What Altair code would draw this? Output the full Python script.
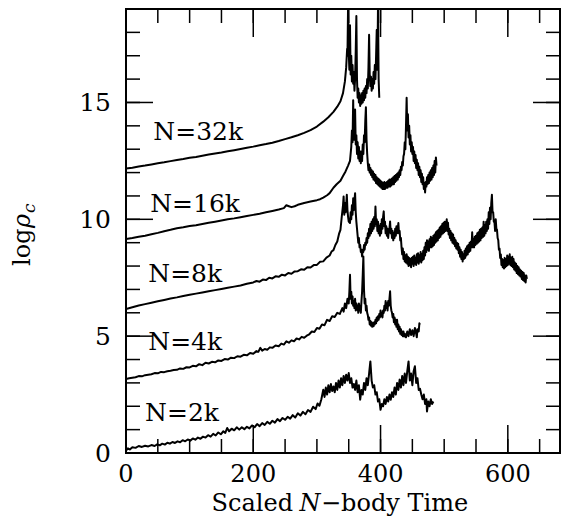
import altair as alt
import pandas as pd

FONT = "DejaVu Serif"

# ---- data: (scaled N-body time, log rho_c) ----
N32K = [(0,12.17),(10,12.21),(20,12.26),(30,12.3),(40,12.35),(50,12.4),(60,12.44),(70,12.49),(80,12.54),(90,12.58),
        (100,12.63),(110,12.67),(120,12.72),(130,12.77),(140,12.82),(150,12.86),(160,12.91),(170,12.96),(180,13.01),(190,13.06),
        (200,13.11),(210,13.17),(220,13.22),(230,13.28),(240,13.35),(250,13.43),(260,13.51),(270,13.6),(280,13.7),(290,13.82),
        (300,13.97),(310,14.18),(318,14.37),(326,14.6),(332,14.82),(337,15.05),(341,15.4),(344,15.9),(346,16.5),(347.5,17.3),
        (348,17.0),(349,19.2),(350,17.2),(351,16.4),(352,18.3),(353,16.2),(354,17.0),(355,15.9),(356,16.6),(357,15.8),
        (358,16.3),(359,15.5),(360,16.0),(361,17.2),(362,18.7),(363,16.0),(364,15.2),(365,15.6),(366,15.0),(367,15.4),
        (368,14.85),(369,15.3),(370,14.95),(371,15.4),(372,15.0),(373,15.5),(374,15.1),(375,15.6),(376,15.2),(377,15.7),
        (378,15.4),(379,16.0),(380,15.6),(381,16.5),(382,17.9),(383,16.2),(384,15.7),(385,16.1),(386,15.5),(387,16.0),
        (388,15.6),(389,16.3),(390,15.8),(391,16.6),(392,16.0),(393,17.0),(394,18.1),(395,16.4),(396,19.1),(397,16.0),(398,15.2)]

N16K = [(0,9.16),(10,9.2),(20,9.25),(30,9.3),(40,9.36),(50,9.42),(60,9.49),(70,9.55),(80,9.62),(90,9.66),
        (100,9.71),(110,9.75),(120,9.8),(130,9.85),(140,9.9),(150,9.95),(160,10.0),(170,10.04),(180,10.09),(190,10.14),
        (200,10.19),(210,10.24),(220,10.3),(230,10.36),(240,10.42),(248,10.48),(252,10.6),(256,10.56),(260,10.52),(265,10.56),
        (270,10.62),(280,10.7),(290,10.76),(300,10.82),(305,10.86),(310,10.93),(316,11.03),(320,11.12),(326,11.35),(331,11.5),
        (337,11.65),(341,11.85),(345,12.05),(349,12.3),(352,12.5),(354,13.1),(355,13.8),(356,13.3),(357,15.1),(358,13.4),
        (359,13.9),(360,14.7),(361,13.2),(362,13.6),(363,12.8),(364,13.3),(365,12.6),(366,13.1),(367,12.5),(368,12.9),
        (369,12.4),(370,12.9),(371,12.5),(372,13.2),(373,12.8),(374,13.6),(375,13.3),(376,14.2),(377,14.8),(378,13.4),
        (379,12.8),(380,12.4),(381,12.1),(382,12.35),(383,12.0),(384,12.2),(385,11.9),(386,12.1),(387,11.8),(388,12.05),
        (389,11.7),(390,11.95),(391,11.65),(392,11.9),(393,11.55),(394,11.8),(395,11.5),(396,11.75),(397,11.45),(398,11.7),
        (399,11.4),(400,11.65),(401,11.35),(402,11.6),(403,11.3),(404,11.55),(405,11.3),(406,11.6),(407,11.3),(408,11.55),
        (409,11.35),(410,11.6),(411,11.35),(412,11.65),(413,11.4),(414,11.7),(415,11.4),(416,11.7),(417,11.45),(418,11.75),
        (419,11.5),(420,11.8),(421,11.5),(422,11.85),(423,11.6),(424,11.9),(425,11.65),(426,11.95),(427,11.7),(428,12.0),
        (429,11.8),(430,12.1),(431,11.9),(432,12.25),(433,12.1),(434,12.45),(435,12.3),(436,12.7),(437,12.8),(438,13.3),
        (439,13.0),(440,14.0),(441,15.2),(442,13.8),(443,14.5),(444,13.5),(445,14.0),(446,13.2),(447,13.6),(448,12.9),
        (449,13.3),(450,12.8),(451,13.1),(452,12.5),(453,12.9),(454,12.4),(455,12.75),(456,12.2),(457,12.55),(458,12.1),
        (459,12.4),(460,11.9),(461,12.25),(462,11.8),(463,12.1),(464,11.6),(465,11.95),(466,11.5),(467,11.8),(468,11.3),
        (469,11.55),(470,11.15),(471,11.6),(472,11.4),(473,11.8),(474,11.5),(475,11.9),(476,11.55),(477,12.0),(478,11.65),
        (479,12.1),(480,11.7),(481,12.2),(482,11.8),(483,12.3),(484,11.9),(485,12.5),(486,12.0),(487,12.65),(488,12.3)]

N8K = [(0,6.16),(10,6.24),(20,6.31),(30,6.37),(40,6.43),(50,6.49),(60,6.55),(70,6.61),(80,6.66),(90,6.72),
       (100,6.77),(110,6.82),(120,6.87),(130,6.92),(140,6.97),(150,7.02),(160,7.07),(170,7.12),(180,7.17),(190,7.24),
       (200,7.3),(205,7.36),(210,7.33),(215,7.42),(220,7.4),(225,7.5),(230,7.47),(235,7.56),(240,7.54),(245,7.63),
       (250,7.6),(255,7.7),(260,7.67),(265,7.77),(270,7.78),(275,7.86),(280,7.84),(285,7.95),(290,7.94),(295,8.04),
       (300,8.05),(305,8.18),(310,8.2),(315,8.36),(320,8.45),(323,8.62),(326,8.68),(329,8.9),(332,9.05),(335,9.4),
       (337,9.55),(339,10.1),(341,10.6),(342,10.98),(343,10.2),(344,10.7),(345,10.3),(346,10.6),(347,11.05),(348,10.4),
       (349,10.1),(350,9.9),(352,9.84),(353,10.3),(354,10.0),(355,10.6),(356,10.2),(357,10.9),(358,10.4),(359,10.8),
       (360,11.12),(361,10.3),(362,9.9),(363,9.6),(364,9.3),(365,9.0),(366,9.2),(367,8.8),(368,8.9),(369,8.6),
       (370,8.7),(371,8.41),(372,8.7),(373,8.6),(374,8.9),(375,8.7),(376,9.0),(377,8.9),(378,9.2),(379,9.0),
       (380,9.4),(381,9.2),(382,9.6),(383,9.3),(384,9.8),(385,9.4),(386,9.9),(387,9.5),(388,10.0),(389,9.6),
       (390,10.1),(391,9.7),(392,10.55),(393,9.8),(394,10.0),(395,9.5),(396,9.9),(397,9.4),(398,9.7),(399,9.3),
       (400,9.8),(401,9.4),(402,10.0),(403,9.6),(404,10.1),(405,10.34),(406,9.7),(407,9.9),(408,9.4),(409,9.7),
       (410,9.3),(411,9.6),(412,9.2),(413,9.5),(414,9.6),(415,9.91),(416,9.4),(417,9.6),(418,9.2),(419,9.5),
       (420,9.1),(421,9.4),(422,9.2),(423,9.6),(424,9.3),(425,9.7),(426,9.4),(427,9.6),(428,9.84),(429,9.4),
       (430,9.5),(431,9.1),(432,9.2),(433,8.8),(434,8.5),(435,8.75),(436,8.3),(437,8.6),(438,8.2),(439,8.45),
       (440,8.15),(441,8.5),(442,8.1),(443,8.4),(444,8.0),(445,8.35),(446,8.05),(447,8.3),(448,7.95),(449,8.35),
       (450,8.1),(451,8.4),(452,8.0),(453,8.45),(454,8.1),(455,8.35),(456,8.05),(457,8.5),(458,8.15),(459,8.55),
       (460,8.1),(461,8.45),(462,8.2),(463,8.6),(464,8.15),(465,8.5),(466,8.25),(467,8.65),(468,8.3),(469,8.8),
       (470,8.45),(471,9.0),(472,8.6),(473,9.1),(474,8.7),(475,9.05),(476,8.65),(477,9.15),(478,8.8),(479,9.25),
       (480,8.8),(481,9.2),(482,8.85),(483,9.3),(484,8.9),(485,9.35),(486,9.0),(487,9.45),(488,9.05),(489,9.5),
       (490,9.1),(491,9.55),(492,9.2),(493,9.65),(494,9.25),(495,9.7),(496,9.35),(497,9.8),(498,9.4),(499,9.85),
       (500,9.45),(501,9.9),(502,9.5),(503,9.75),(504,10.0),(505,9.5),(506,9.85),(507,9.35),(508,9.6),(509,9.2),
       (510,9.5),(511,9.1),(512,9.4),(513,9.0),(514,9.35),(515,8.95),(516,9.2),(517,8.85),(518,9.1),(519,8.75),
       (520,9.0),(521,8.7),(522,8.95),(523,8.55),(524,8.8),(525,8.4),(526,8.7),(527,8.3),(528,8.6),(529,8.2),
       (530,8.5),(531,8.3),(532,8.65),(533,8.35),(534,8.75),(535,8.45),(536,8.85),(537,8.5),(538,8.9),(539,8.6),
       (540,9.0),(541,8.65),(542,9.05),(543,8.8),(544,9.45),(545,8.8),(546,9.15),(547,8.8),(548,9.25),(549,8.9),
       (550,9.3),(551,8.95),(552,9.4),(553,9.0),(554,9.45),(555,9.05),(556,9.55),(557,9.1),(558,9.6),(559,9.2),
       (560,9.65),(561,9.25),(562,9.9),(563,9.3),(564,9.75),(565,9.4),(566,9.9),(567,9.5),(568,10.0),(569,9.6),
       (570,10.3),(571,9.8),(572,10.5),(573,10.0),(574,10.7),(575,11.05),(576,10.3),(577,10.3),(578,9.9),(579,9.9),
       (580,9.5),(581,10.0),(582,9.6),(583,9.55),(584,9.2),(585,9.1),(586,8.7),(587,8.75),(588,8.35),(589,8.5),
       (590,8.05),(591,8.3),(592,7.95),(593,8.25),(594,7.9),(595,8.35),(596,7.95),(597,8.3),(598,8.0),(599,8.45),
       (600,8.05),(601,8.4),(602,8.1),(603,8.5),(604,8.05),(605,8.35),(606,8.0),(607,8.4),(608,7.95),(609,8.3),
       (610,7.85),(611,8.15),(612,7.8),(613,8.1),(614,7.7),(615,8.0),(616,7.65),(617,7.95),(618,7.6),(619,7.85),
       (620,7.55),(621,7.8),(622,7.45),(623,7.75),(624,7.4),(625,7.7),(626,7.35),(627,7.6),(628,7.3),(629,7.6),(630,7.45)]

N4K = [(0,3.17),(5,3.2),(10,3.22),(15,3.24),(20,3.29),(25,3.28),(30,3.33),(35,3.35),(40,3.37),(45,3.42),
       (50,3.41),(55,3.47),(60,3.46),(65,3.5),(70,3.52),(75,3.55),(80,3.56),(85,3.62),(90,3.6),(95,3.67),
       (100,3.66),(105,3.73),(110,3.71),(115,3.8),(120,3.76),(125,3.86),(130,3.83),(135,3.9),(140,3.88),(145,3.96),
       (150,3.94),(155,4.02),(160,4.0),(165,4.08),(170,4.06),(175,4.14),(180,4.12),(185,4.2),(190,4.18),(195,4.28),
       (200,4.25),(205,4.36),(208,4.33),(211,4.5),(214,4.38),(218,4.45),(222,4.42),(226,4.52),(230,4.5),(235,4.6),
       (240,4.57),(244,4.68),(248,4.64),(252,4.78),(256,4.72),(260,4.82),(264,4.78),(268,4.9),(272,4.86),(276,4.97),
       (280,4.93),(284,5.02),(288,5.08),(292,5.2),(296,5.18),(300,5.35),(304,5.32),(308,5.5),(312,5.47),(316,5.7),
       (320,5.65),(324,5.85),(328,5.82),(332,6.0),(336,5.95),(340,6.2),(342,6.05),(344,6.4),(346,6.2),(348,6.6),
       (350,6.4),(351,6.9),(352,7.63),(353,6.6),(354,6.9),(355,6.4),(356,6.7),(357,6.3),(358,6.5),(359,6.2),
       (360,6.6),(361,6.1),(362,6.4),(363,6.13),(364,6.3),(365,6.0),(366,6.4),(367,6.1),(368,6.3),(369,6.0),
       (370,6.5),(371,6.9),(372,7.6),(373,8.41),(374,7.0),(375,6.4),(376,6.6),(377,6.1),(378,6.3),(379,6.0),
       (380,5.9),(381,5.7),(382,5.8),(383,5.5),(384,5.65),(385,5.45),(386,5.6),(387,5.4),(388,5.55),(389,5.42),
       (390,5.6),(391,5.5),(392,5.7),(393,5.55),(394,5.8),(395,5.65),(396,5.85),(397,5.7),(398,5.95),(399,5.8),
       (400,6.1),(401,5.85),(402,6.0),(403,5.8),(404,6.1),(405,5.99),(406,6.3),(407,6.1),(408,6.5),(409,6.2),
       (410,6.4),(411,6.1),(412,6.5),(413,6.3),(414,6.6),(415,6.92),(416,6.3),(417,6.1),(418,6.0),(419,5.8),
       (420,5.95),(421,5.6),(422,5.8),(423,5.5),(424,5.7),(425,5.4),(426,5.7),(427,5.3),(428,5.5),(429,5.2),
       (430,5.4),(431,5.1),(432,5.3),(433,5.05),(434,5.2),(435,5.0),(436,5.2),(437,4.99),(438,5.1),(440,4.95),
       (442,5.2),(444,5.0),(446,5.3),(448,5.05),(450,5.25),(452,5.0),(454,5.35),(456,5.1),(457,4.95),(458,5.3),
       (460,5.2),(461,5.55),(462,5.49)]

N2K = [(0,0.1),(3,0.2),(6,0.15),(10,0.25),(15,0.22),(20,0.3),(25,0.26),(30,0.31),(35,0.28),(40,0.34),
       (45,0.3),(49,0.37),(53,0.33),(57,0.4),(61,0.36),(65,0.44),(69,0.4),(73,0.47),(77,0.43),(81,0.5),
       (85,0.46),(89,0.55),(93,0.5),(97,0.58),(101,0.53),(105,0.62),(109,0.57),(113,0.66),(117,0.61),(121,0.7),
       (125,0.66),(129,0.76),(133,0.7),(137,0.82),(141,0.75),(145,0.88),(149,0.8),(153,0.93),(156,0.86),(159,1.07),
       (162,0.93),(166,1.04),(170,0.97),(174,1.1),(178,1.0),(182,1.1),(186,1.02),(190,1.12),(194,1.05),(198,1.18),
       (202,1.1),(206,1.24),(210,1.15),(214,1.28),(218,1.2),(222,1.33),(226,1.25),(230,1.38),(234,1.3),(238,1.45),
       (242,1.36),(246,1.5),(250,1.42),(254,1.55),(258,1.47),(262,1.62),(266,1.52),(270,1.7),(274,1.6),(278,1.76),
       (282,1.66),(286,1.84),(290,1.76),(294,1.98),(298,1.88),(301,2.12),(304,2.02),(307,2.3),(310,2.71),(312,2.4),
       (314,2.8),(316,2.5),(318,2.9),(320,2.6),(322,2.95),(324,2.65),(326,2.85),(328,2.6),(330,3.0),(332,2.7),
       (334,3.1),(336,2.8),(338,3.2),(340,2.9),(342,3.3),(344,3.0),(346,3.35),(348,3.1),(350,3.42),(352,3.0),
       (354,3.2),(356,2.8),(358,2.95),(360,2.7),(362,3.1),(364,2.6),(366,2.9),(368,2.28),(370,2.7),(372,2.5),
       (374,3.0),(376,2.7),(378,3.2),(380,2.9),(382,3.4),(384,3.92),(386,3.1),(388,2.8),(390,2.9),(392,2.5),
       (394,2.6),(396,2.2),(398,2.3),(400,1.85),(402,2.1),(404,2.0),(406,2.3),(408,2.1),(410,2.4),(412,2.2),
       (414,2.5),(416,2.28),(418,2.6),(420,2.4),(422,2.8),(424,2.5),(426,3.0),(428,2.7),(430,3.14),(432,2.8),
       (434,3.3),(436,2.9),(438,3.4),(440,3.0),(442,3.5),(444,3.92),(446,3.1),(448,3.4),(450,2.9),(452,3.5),
       (454,3.71),(456,3.0),(458,3.2),(460,2.7),(462,2.75),(464,2.5),(466,2.3),(468,2.5),(470,2.1),(472,2.3),
       (473,1.78),(475,2.2),(477,2.0),(479,2.3),(481,2.1),(483,2.2)]

SERIES_NAMES = ["N=32k", "N=16k", "N=8k", "N=4k", "N=2k"]
SERIES_DATA = [N32K, N16K, N8K, N4K, N2K]

# curve labels (text, time, log rho_c of baseline-left anchor)
LABEL_TEXT = ["N=32k", "N=16k", "N=8k", "N=4k", "N=2k"]
LABEL_T = [43, 38, 35, 35, 30]
LABEL_V = [13.4, 10.33, 7.33, 4.42, 1.35]

X_LABELS = [0, 200, 400, 600]
Y_LABELS = [0, 5, 10, 15]
X_MINOR = [0, 50, 100, 150, 200, 250, 300, 350, 400, 450, 500, 550, 600, 650]
Y_MINOR = [0, 1, 2, 3, 4, 5, 6, 7, 8, 9, 10, 11, 12, 13, 14, 15, 16, 17, 18]

X_DOMAIN = [0, 682]
Y_DOMAIN = [0, 19.0]
W, H = 434, 444

rows = []
for name, pts in zip(SERIES_NAMES, SERIES_DATA):
    for i, (t, v) in enumerate(pts):
        rows.append({"series": name, "t": t, "v": v, "order": i})
df = pd.DataFrame(rows)

xs = alt.Scale(domain=X_DOMAIN, nice=False, zero=False)
ys = alt.Scale(domain=Y_DOMAIN, nice=False, zero=False)

lines = alt.Chart(df).mark_line(color="black", strokeWidth=2.0, clip=True, strokeJoin="round").encode(
    x=alt.X("t:Q", scale=xs, axis=None),
    y=alt.Y("v:Q", scale=ys, axis=None),
    detail="series:N",
    order="order:Q",
)

xmin_df = pd.DataFrame({"t": X_MINOR})
xmaj_df = pd.DataFrame({"t": X_LABELS})
ymin_df = pd.DataFrame({"v": Y_MINOR})
ymaj_df = pd.DataFrame({"v": Y_LABELS})

def xticks(d, length):
    base = alt.Chart(d).mark_rule(color="black", strokeWidth=1.5)
    xe = alt.X("t:Q", scale=xs, axis=None)
    return [base.encode(x=xe, y=alt.value(H), y2=alt.value(H - length)),
            base.encode(x=xe, y=alt.value(0), y2=alt.value(length))]

def yticks(d, length):
    base = alt.Chart(d).mark_rule(color="black", strokeWidth=1.5)
    ye = alt.Y("v:Q", scale=ys, axis=None)
    return [base.encode(y=ye, x=alt.value(0), x2=alt.value(length)),
            base.encode(y=ye, x=alt.value(W), x2=alt.value(W - length))]

ticks = xticks(xmin_df, 14) + xticks(xmaj_df, 28) + yticks(ymin_df, 14) + yticks(ymaj_df, 27)

# tick labels
xlab = alt.Chart(pd.DataFrame({"t": X_LABELS})).mark_text(
    font=FONT, fontSize=24, align="center", baseline="alphabetic", color="black").encode(
    x=alt.X("t:Q", scale=xs, axis=None), y=alt.value(H + 29), text=alt.Text("t:Q", format="d"))
ylab = alt.Chart(pd.DataFrame({"v": Y_LABELS})).mark_text(
    font=FONT, fontSize=25, align="right", baseline="alphabetic", dy=9, color="black").encode(
    y=alt.Y("v:Q", scale=ys, axis=None), x=alt.value(-15), text=alt.Text("v:Q", format="d"))

lab_df = pd.DataFrame({"text": LABEL_TEXT, "t": LABEL_T, "v": LABEL_V})
labels = alt.Chart(lab_df).mark_text(font=FONT, fontSize=25, align="left", baseline="alphabetic", color="black").encode(
    x=alt.X("t:Q", scale=xs, axis=None), y=alt.Y("v:Q", scale=ys, axis=None), text="text:N")

def txt(s, x, y, size=25, style="normal", align="left", angle=0):
    return alt.Chart(pd.DataFrame({"s": [s]})).mark_text(
        font=FONT, fontSize=size, fontStyle=style, align=align, baseline="alphabetic",
        angle=angle, color="black").encode(x=alt.value(x), y=alt.value(y), text="s:N")

TY = 502
xtitle = [txt("Scaled", 167, TY, 24, align="right"),
          txt("N", 184, TY, 24, style="italic", align="center"),
          txt("\u2212body Time", 195, TY, 24)]
ytitle = [txt("log", -96, 257, 24, angle=270),
          txt("\u03c1", -96, 219, 24, style="italic", angle=270),
          txt("c", -91, 204, 17, style="italic", angle=270)]

chart = alt.layer(lines, *ticks, xlab, ylab, labels, *xtitle, *ytitle).properties(
    width=W, height=H,
    padding={"left": 118, "top": 1, "right": 1, "bottom": 63},
    autosize=alt.AutoSizeParams(type="none"),
).configure_view(stroke="black", strokeWidth=2)

chart.save("out.html", embed_options={"renderer": "svg", "actions": False})
